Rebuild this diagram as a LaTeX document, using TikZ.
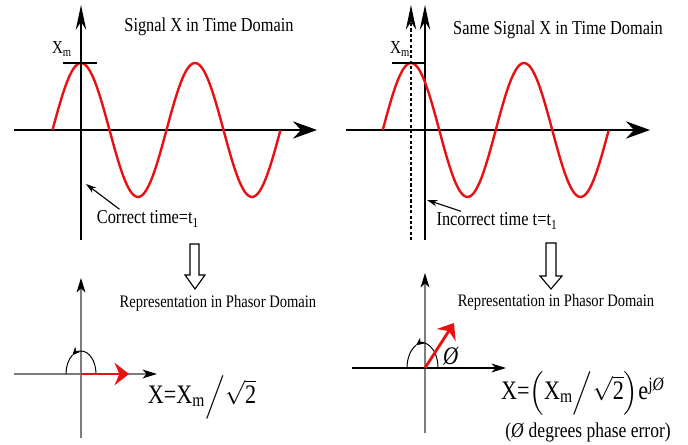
\documentclass[tikz,border=0pt]{standalone}
\usepackage{amsmath}
\usepackage{fontspec}
\setmainfont{Liberation Serif}[FakeStretch=0.83]
\usepackage{xcolor}
\definecolor{SigRed}{RGB}{232,16,16}
\definecolor{AxisGray}{RGB}{125,125,125}
\usepackage{tikz}
\usetikzlibrary{
  arrows.meta,
  positioning, calc
}
\tikzset{
  % Time domain axes
  vaxis/.style={black, line width=1.2pt,
    -{Stealth[length=6.2mm,width=2.6mm,inset=2mm]}},
  haxis/.style={black, line width=1.6pt,
    -{Stealth[length=6mm,width=4.3mm,inset=2mm]}},
  shifted/.style={vaxis, line width=0.9pt, dash pattern=on 2.2pt off 1.6pt},
  % Signal curve
  sigline/.style={SigRed, line width=1.7pt},
  xmtick/.style={black, line width=0.9pt},
  % Phasor domain
  paxis/.style={AxisGray, line width=1.1pt,
    -{Stealth[length=3.6mm,width=2.2mm,inset=1mm,color=black]}},
  phasor/.style={SigRed, line width=2pt,
    -{Stealth[length=3.6mm,width=5.6mm,inset=1.2mm]}},
  rot/.style={black, line width=0.7pt},
  rotarr/.style={rot, -{Stealth[length=2mm,width=1.8mm]}},
  % Hollow down arrow
  hollow/.style={draw=black, line width=0.8pt, fill=white},
  % Pointer arrows
  ptr/.style={black, line width=0.8pt, -{Stealth[length=2.6mm,width=1.6mm]}},
  % Texts
  ttl/.style={font=\fontsize{14}{16}\selectfont, inner sep=1pt},
  lbl/.style={font=\fontsize{14}{16}\selectfont, inner sep=1pt},
  xmlbl/.style={font=\fontsize{13}{15}\selectfont, inner sep=1pt},
  replbl/.style={font=\fontsize{12.5}{14}\selectfont, inner sep=1pt},
  eq/.style={font=\fontsize{19}{22}\selectfont, inner sep=1pt},
  note/.style={font=\fontsize{15}{17}\selectfont, inner sep=1pt},
}

\begin{document}
\begin{tikzpicture}[x=0.025cm, y=0.025cm]
  \useasboundingbox (0,0) rectangle (688,445);

  % Signal X in time domain
  \draw[vaxis] (81,205) -- (81,440);
  \draw[haxis] (14,315) -- (317,315);
  \draw[sigline] plot[domain=-0.25:1.75, samples=120]
    ({81+114*\x}, {315+67*cos(360*\x)});
  \draw[xmtick] (63,382) -- (97,382);
  \node[xmlbl] (xmA) at (62,396) {X\textsubscript{m}};
  \node[ttl] (titleA) at (209,418) {Signal X in Time Domain};
  \node[lbl] (timeA) at (148,226) {Correct time=t\textsubscript{1}};
  \coordinate (tA) at (86,261);
  \draw[ptr] ($(timeA.north west)!0.23!(timeA.north east)$) -- (tA);

  % Same signal, shifted reference
  \draw[shifted] (411,205) -- (411,440);
  \draw[vaxis] (425,205) -- (425,440);
  \draw[haxis] (346,315) -- (650,315);
  \draw[sigline] plot[domain=-0.25:1.75, samples=120]
    ({411+113*\x}, {315+67*cos(360*\x)});
  \draw[xmtick] (392,382) -- (426,382);
  \node[xmlbl] (xmB) at (400,396) {X\textsubscript{m}};
  \node[ttl] (titleB) at (558,415) {Same Signal X in Time Domain};
  \node[lbl] (timeB) at (497,224) {Incorrect time t=t\textsubscript{1}};
  \coordinate (tB) at (427,245);
  \draw[ptr] ($(timeB.north west)!0.21!(timeB.north east)$) -- (tB);

  % Hollow arrows down
  \draw[hollow] (190,201) -- (199,201) -- (199,170) -- (205,170)
    -- (195,156) -- (185,170) -- (190,170) -- cycle;
  \draw[hollow] (546,202) -- (556,202) -- (556,169) -- (562,169)
    -- (551,156) -- (540,169) -- (546,169) -- cycle;
  \node[replbl] (repA) at (218,142) {Representation in Phasor Domain};
  \node[replbl] (repB) at (556,143) {Representation in Phasor Domain};

  % Phasor without phase error
  \coordinate (pA) at (81,71);
  \coordinate (headA) at (129,71);
  \draw[paxis] (81,7) -- (81,167);
  \draw[paxis] (14,71) -- (157,71);
  \draw[rotarr] (96,71) arc[start angle=0, end angle=125, x radius=15, y radius=23]
    coordinate (rA);
  \draw[rot] (rA) arc[start angle=125, end angle=180, x radius=15, y radius=23];
  \draw[phasor] (pA) -- (headA);
  \node[eq] (eqA) at (202,48) {X=X\textsubscript{m}$\Big/\sqrt{\text{2}}$};

  % Phasor with phase error
  \coordinate (pB) at (425,77);
  \coordinate (headB) at (454,122);
  \draw[paxis] (425,12) -- (425,172);
  \draw[paxis, black] (352,77) -- (506,77);
  \draw[rotarr] (438,77) arc[start angle=0, end angle=115, x radius=15.5, y radius=25]
    coordinate (rB);
  \draw[rot] (rB) arc[start angle=115, end angle=180, x radius=15.5, y radius=25];
  \draw[phasor] (pB) -- (headB);
  \node[note, font=\fontsize{18}{20}\selectfont] (phi) at (451,89) {\textit{Ø}};
  \node[eq] (eqB) at (583,52)
    {X=$\Big($X\textsubscript{m}$\Big/\sqrt{\text{2}}\Big)$e\textsuperscript{j\textit{Ø}}};
  \node[note] (errB) at (588,13) {(\textit{Ø} degrees phase error)};
\end{tikzpicture}
\end{document}
